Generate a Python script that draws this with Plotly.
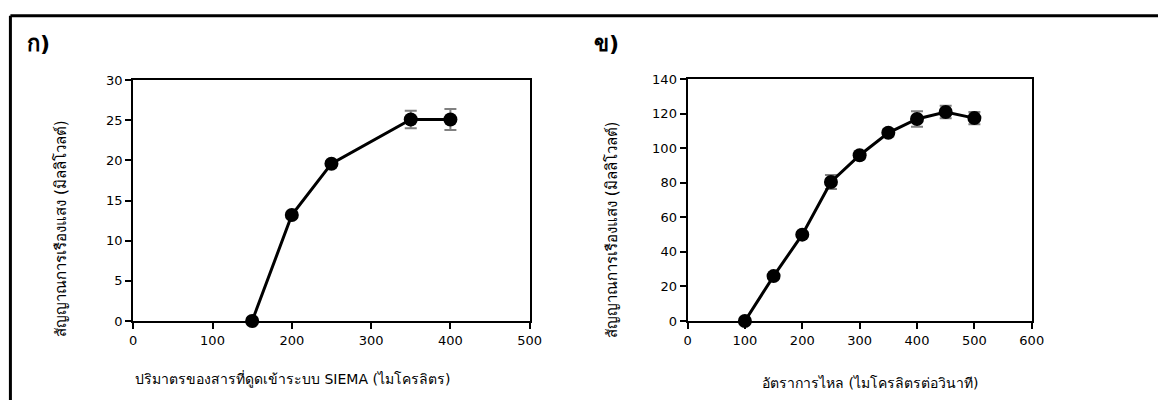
import plotly.graph_objects as go

# Panel ก)
vol_x = [150, 200, 250, 350, 400]
vol_y = [0, 13.2, 19.6, 25.1, 25.1]
vol_err = [0.3, 0.3, 0.3, 1.1, 1.3]

# Panel ข)
flow_x = [100, 150, 200, 250, 300, 350, 400, 450, 500]
flow_y = [0, 26, 50, 80.5, 96, 109, 117, 121, 117.5]
flow_err = [1, 1, 1.5, 4, 2, 2, 4.5, 3.6, 3.5]

y_title = "สัญญาณการเรืองแสง (มิลลิโวลต์)"
x1_title = "ปริมาตรของสารที่ดูดเข้าระบบ SIEMA (ไมโครลิตร)"
x2_title = "อัตราการไหล (ไมโครลิตรต่อวินาที)"

W, H = 1170, 408
FONT = "Tahoma, 'DejaVu Sans', 'Noto Sans', sans-serif"

def px_x(p):
    return p / W

def px_y(p):
    return 1 - p / H

fig = go.Figure()
for xs, ys, es, xa, ya in [(vol_x, vol_y, vol_err, "x", "y"), (flow_x, flow_y, flow_err, "x2", "y2")]:
    fig.add_trace(go.Scatter(
        x=xs, y=ys, xaxis=xa, yaxis=ya, mode="lines+markers",
        line=dict(color="black", width=3),
        marker=dict(color="black", size=14),
        error_y=dict(type="data", array=es, visible=True, color="#808080", thickness=2, width=6),
        showlegend=False, cliponaxis=False,
    ))

axis_common = dict(showgrid=False, zeroline=False, showline=True, linecolor="black", linewidth=2,
                   mirror=True, ticks="outside", ticklen=6, tickwidth=1.5, tickcolor="black",
                   tickfont=dict(size=13, color="black", family=FONT))

fig.update_layout(
    width=W, height=H, margin=dict(l=0, r=0, t=0, b=0),
    paper_bgcolor="white", plot_bgcolor="white",
    font=dict(family=FONT, color="black"),
    xaxis=dict(domain=[px_x(131), px_x(533)], range=[0, 500], dtick=100, anchor="y", **axis_common),
    yaxis=dict(domain=[px_y(326), px_y(76)], range=[0, 30], dtick=5, anchor="x", **axis_common),
    xaxis2=dict(domain=[px_x(693), px_x(1042)], range=[0, 600], dtick=100, anchor="y2", **axis_common),
    yaxis2=dict(domain=[px_y(326), px_y(75)], range=[0, 140], dtick=20, anchor="x2", **axis_common),
)

# outer frame: top and left edges (right/bottom fall outside the picture)
fig.add_shape(type="line", xref="paper", yref="paper", x0=px_x(6.5), x1=1, y0=px_y(9), y1=px_y(9),
              line=dict(color="black", width=3))
fig.add_shape(type="line", xref="paper", yref="paper", x0=px_x(6.5), x1=px_x(6.5), y0=0, y1=px_y(9),
              line=dict(color="black", width=3))

ann = []
ann.append(dict(text="<b>ก)</b>", x=px_x(21), y=px_y(38), xanchor="left", yanchor="middle", font=dict(size=22)))
ann.append(dict(text="<b>ข)</b>", x=px_x(596), y=px_y(38), xanchor="left", yanchor="middle", font=dict(size=22)))
ann.append(dict(text=x1_title, x=px_x(292), y=px_y(386), xanchor="center", yanchor="middle", font=dict(size=14)))
ann.append(dict(text=x2_title, x=px_x(878), y=px_y(390), xanchor="center", yanchor="middle", font=dict(size=14)))
ann.append(dict(text=y_title, x=px_x(57), y=px_y(230), xanchor="center", yanchor="middle", textangle=-90, font=dict(size=15)))
ann.append(dict(text=y_title, x=px_x(617), y=px_y(232), xanchor="center", yanchor="middle", textangle=-90, font=dict(size=15)))
for a in ann:
    a.update(xref="paper", yref="paper", showarrow=False)
    a["font"].update(family=FONT, color="black")
fig.update_layout(annotations=ann)

fig.write_html("out.html", config={"displayModeBar": False},
               post_script="document.body.style.margin='0';document.body.style.overflow='hidden';")
